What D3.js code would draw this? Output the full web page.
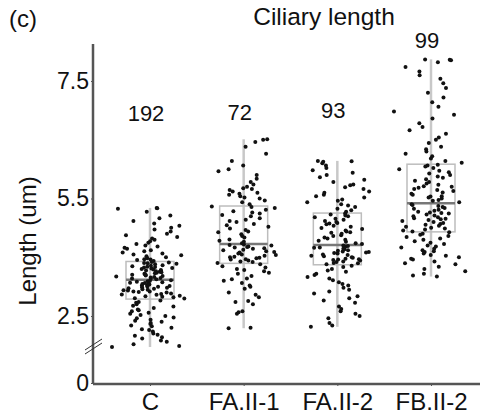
<!DOCTYPE html>
<meta charset="utf-8">
<style>
  body { margin: 0; background: #fff; }
  svg { font-family: Arial, "Liberation Sans", sans-serif; }
</style>
<body>
<svg id="chart" width="483" height="416"></svg>
<script src="https://d3js.org/d3.v7.min.js"></script>
<script>
// --- data ---
var categories = ["C", "FA.II-1", "FA.II-2", "FB.II-2"]
var counts = [192, 72, 93, 99]

// box stats per group: whisker low, q1, median, q3, whisker high
var whiskerLow = [1.84, 2.24, 2.27, 3.34]
var q1 = [2.86, 3.62, 3.59, 4.29]
var median = [3.27, 4.03, 4.01, 4.90]
var q3 = [3.66, 4.84, 4.69, 5.73]
var whiskerHigh = [4.80, 6.26, 5.80, 7.96]

var tickValues = [0, 2.5, 5, 7.5]
var tickLabels = ["0", "2.5", "5.5", "7.5"]

var pointsC = [1.84, 1.86, 1.9, 1.95, 1.98, 2.02, 2.05, 2.08, 2.1, 2.13, 2.17, 2.2, 2.22, 2.25, 2.28, 2.3, 2.33, 2.35, 2.38, 2.4, 2.42, 2.45, 2.47, 2.5, 2.52, 2.55, 2.57, 2.6, 2.62, 2.64, 2.67, 2.7, 2.72, 2.75, 2.78, 2.8, 2.83,
  2.87, 2.88, 2.9, 2.91, 2.93, 2.95, 2.96, 2.98, 3.0, 3.01, 3.02, 3.04, 3.05, 3.07, 3.08, 3.1, 3.11, 3.12, 3.14, 3.15, 3.16, 3.18, 3.19, 3.2, 3.21, 3.22, 3.23, 3.24, 3.25, 3.26, 3.02, 2.97, 3.09, 3.13, 3.17, 2.92, 3.06,
  3.28, 3.29, 3.3, 3.31, 3.33, 3.34, 3.35, 3.36, 3.38, 3.39, 3.4, 3.41, 3.42, 3.44, 3.45, 3.46, 3.47, 3.49, 3.5, 3.51, 3.52, 3.54, 3.55, 3.56, 3.57, 3.58, 3.6, 3.61, 3.62, 3.63, 3.64, 3.65, 3.32, 3.37, 3.43, 3.48, 3.53,
  3.67, 3.69, 3.71, 3.73, 3.75, 3.77, 3.79, 3.81, 3.83, 3.85, 3.88, 3.9, 3.93, 3.95, 3.98, 4.0, 4.03, 4.06, 4.09, 4.12, 4.15, 4.18, 4.22, 4.25, 4.3, 4.34, 4.38, 4.42, 4.47, 4.52, 4.58, 4.64, 4.72, 4.78, 4.8, 4.79, 3.7]

var pointsFA1 = [2.24, 2.25, 2.55, 2.58, 2.6, 2.75, 2.8, 2.82, 2.9, 2.95, 3.0, 3.08, 3.12, 3.15, 3.2, 3.25, 3.28, 3.3, 3.35, 3.4, 3.42, 3.45, 3.48, 3.5, 3.53, 3.56, 3.6,
  3.63, 3.65, 3.66, 3.68, 3.7, 3.71, 3.73, 3.75, 3.76, 3.78, 3.8, 3.81, 3.83, 3.85, 3.86, 3.88, 3.9, 3.91, 3.93, 3.94, 3.96, 3.97, 3.98, 4.0, 4.01, 4.02, 3.74,
  4.05, 4.08, 4.1, 4.13, 4.17, 4.2, 4.24, 4.28, 4.3, 4.33, 4.36, 4.4, 4.43, 4.46, 4.5, 4.52, 4.55, 4.58, 4.62, 4.65, 4.68, 4.7, 4.73, 4.76, 4.8, 4.82, 4.83,
  4.88, 4.92, 4.96, 5.0, 5.02, 5.05, 5.08, 5.1, 5.12, 5.15, 5.18, 5.2, 5.22, 5.25, 5.3, 5.35, 5.42, 5.5, 5.58, 5.62, 5.7, 5.8, 5.95, 6.1, 6.2, 6.25, 6.26]

var pointsFA2 = [2.27, 2.3, 2.35, 2.45, 2.5, 2.55, 2.6, 2.65, 2.7, 2.78, 2.83, 2.88, 2.92, 2.98, 3.02, 3.06, 3.1, 3.15, 3.18, 3.22, 3.26, 3.3, 3.33, 3.37, 3.4, 3.44, 3.47, 3.5, 3.54, 3.57,
  3.6, 3.62, 3.63, 3.65, 3.66, 3.68, 3.69, 3.71, 3.72, 3.74, 3.75, 3.77, 3.78, 3.8, 3.81, 3.83, 3.84, 3.86, 3.87, 3.89, 3.9, 3.92, 3.93, 3.95, 3.96, 3.98, 3.99, 4.0, 3.7, 3.85,
  4.03, 4.05, 4.08, 4.1, 4.12, 4.15, 4.17, 4.2, 4.22, 4.25, 4.27, 4.3, 4.32, 4.35, 4.37, 4.4, 4.42, 4.45, 4.47, 4.5, 4.52, 4.55, 4.57, 4.6, 4.62, 4.64, 4.66, 4.68, 4.28, 4.48,
  4.72, 4.75, 4.78, 4.82, 4.85, 4.88, 4.92, 4.95, 4.98, 5.02, 5.05, 5.08, 5.12, 5.15, 5.2, 5.24, 5.28, 5.3, 5.35, 5.4, 5.45, 5.5, 5.55, 5.6, 5.65, 5.7, 5.75, 5.78, 5.8, 5.79]

var pointsFB2 = [3.34, 3.36, 3.4, 3.45, 3.5, 3.55, 3.6, 3.62, 3.66, 3.7, 3.72, 3.75, 3.78, 3.8, 3.83, 3.86, 3.88, 3.9, 3.93, 3.96, 3.98, 4.0, 4.03, 4.06, 4.09, 4.12, 4.15, 4.18, 4.2, 4.23, 4.25, 4.28,
  4.3, 4.32, 4.34, 4.36, 4.38, 4.4, 4.42, 4.44, 4.46, 4.48, 4.5, 4.52, 4.54, 4.56, 4.58, 4.6, 4.62, 4.64, 4.66, 4.68, 4.7, 4.72, 4.74, 4.76, 4.78, 4.8, 4.82, 4.84, 4.86, 4.88, 4.57, 4.69,
  4.92, 4.95, 4.97, 5.0, 5.02, 5.05, 5.08, 5.1, 5.13, 5.16, 5.18, 5.2, 5.23, 5.26, 5.29, 5.32, 5.35, 5.38, 5.41, 5.44, 5.47, 5.5, 5.53, 5.56, 5.59, 5.62, 5.65, 5.68, 5.7, 5.72, 5.04, 5.25,
  5.76, 5.8, 5.85, 5.9, 5.95, 6.0, 6.05, 6.1, 6.18, 6.25, 6.3, 6.38, 6.45, 6.52, 6.6, 6.7, 6.78, 6.85, 6.95, 7.05, 7.15, 7.25, 7.35, 7.45, 7.55, 7.62, 7.7, 7.8, 7.9, 7.94, 7.96, 7.95]

var groups = [pointsC, pointsFA1, pointsFA2, pointsFB2]

// --- layout ---
var svg = d3.select('#chart')
var fontSize = 23

var x = d3.scalePoint().domain(categories).range([150, 431])
// broken axis: short stub from 0, then the linear part
var y = d3.scaleLinear().domain([0, 1.7, 8.3]).range([383, 353.6, 43.4])

var axisX0 = 93
var axisY0 = 384
var boxWidth = 48
var jitterWidth = 38
var countY = [121, 120, 118, 48]

// deterministic jitter (index hash), centre-weighted
function jitter(i, g) {
  var a = Math.sin(i * 12.9898 + g * 78.233) * 43758.5453
  var b = Math.sin(i * 39.3468 + g * 11.135) * 24634.6345
  a = a - Math.floor(a)
  b = b - Math.floor(b)
  return (a + b - 1)
}

// boxes + whiskers
var boxG = svg.append('g')
categories.forEach(function (c, g) {
  var cx = x(c)
  boxG.append('line')
    .attr('x1', cx).attr('x2', cx)
    .attr('y1', y(whiskerLow[g])).attr('y2', y(whiskerHigh[g]))
    .attr('stroke', '#c8c8c8').attr('stroke-width', 2.5)
  boxG.append('rect')
    .attr('x', cx - boxWidth / 2).attr('width', boxWidth)
    .attr('y', y(q3[g])).attr('height', y(q1[g]) - y(q3[g]))
    .attr('fill', 'none').attr('stroke', '#bdbdbd').attr('stroke-width', 1.5)
  boxG.append('line')
    .attr('x1', cx - boxWidth / 2).attr('x2', cx + boxWidth / 2)
    .attr('y1', y(median[g])).attr('y2', y(median[g]))
    .attr('stroke', '#777').attr('stroke-width', 2.5)
})

// points
var pointG = svg.append('g')
groups.forEach(function (vals, g) {
  pointG.selectAll(null)
    .data(vals)
    .enter().append('circle')
    .attr('cx', function (d, i) { return x(categories[g]) + jitter(i, g) * jitterWidth })
    .attr('cy', function (d) { return y(d) })
    .attr('r', 2)
    .attr('fill', '#111')
})

// axes
var yAxis = d3.axisLeft(y)
  .tickValues(tickValues)
  .tickFormat(function (d, i) { return tickLabels[i] })
  .tickSize(2)
  .tickSizeOuter(0)
var yAxisG = svg.append('g').attr('transform', 'translate(' + axisX0 + ',0)').call(yAxis)
yAxisG.select('.domain').remove()
yAxisG.selectAll('text').attr('font-size', fontSize).attr('fill', '#111').attr('x', -4)
  .attr('font-family', 'Arial, "Liberation Sans", sans-serif')
yAxisG.selectAll('line').attr('stroke', '#555')

var xAxis = d3.axisBottom(x).tickSize(2).tickSizeOuter(0).tickPadding(7)
var xAxisG = svg.append('g').attr('transform', 'translate(0,' + axisY0 + ')').call(xAxis)
xAxisG.select('.domain').remove()
xAxisG.selectAll('text').attr('font-size', 24).attr('fill', '#111')
  .attr('font-family', 'Arial, "Liberation Sans", sans-serif')
xAxisG.selectAll('line').attr('stroke', '#555')

svg.append('line')
  .attr('x1', axisX0).attr('x2', axisX0).attr('y1', 44).attr('y2', axisY0)
  .attr('stroke', '#555').attr('stroke-width', 2.5)
svg.append('line')
  .attr('x1', axisX0).attr('x2', 480).attr('y1', axisY0).attr('y2', axisY0)
  .attr('stroke', '#555').attr('stroke-width', 2.5)

// break marks
;[0, 4].forEach(function (dy) {
  svg.append('line')
    .attr('x1', 85).attr('y1', 350 + dy).attr('x2', 102).attr('y2', 339 + dy)
    .attr('stroke', '#333').attr('stroke-width', 1)
})

// count labels
svg.selectAll('.count')
  .data(counts)
  .enter().append('text')
  .attr('class', 'count')
  .attr('x', function (d, i) { return x(categories[i]) - 4 })
  .attr('y', function (d, i) { return countY[i] })
  .attr('text-anchor', 'middle')
  .attr('font-size', 22)
  .attr('fill', '#111')
  .text(function (d) { return d })

// titles
svg.append('text')
  .attr('x', 324).attr('y', 25)
  .attr('text-anchor', 'middle')
  .attr('font-size', 24.5)
  .attr('fill', '#111')
  .text('Ciliary length')

svg.append('text')
  .attr('x', 9).attr('y', 27)
  .attr('font-size', 24)
  .attr('fill', '#111')
  .text('(c)')

svg.append('text')
  .attr('transform', 'translate(36,241) rotate(-90)')
  .attr('text-anchor', 'middle')
  .attr('font-size', 24)
  .attr('fill', '#111')
  .text('Length (um)')
</script>
